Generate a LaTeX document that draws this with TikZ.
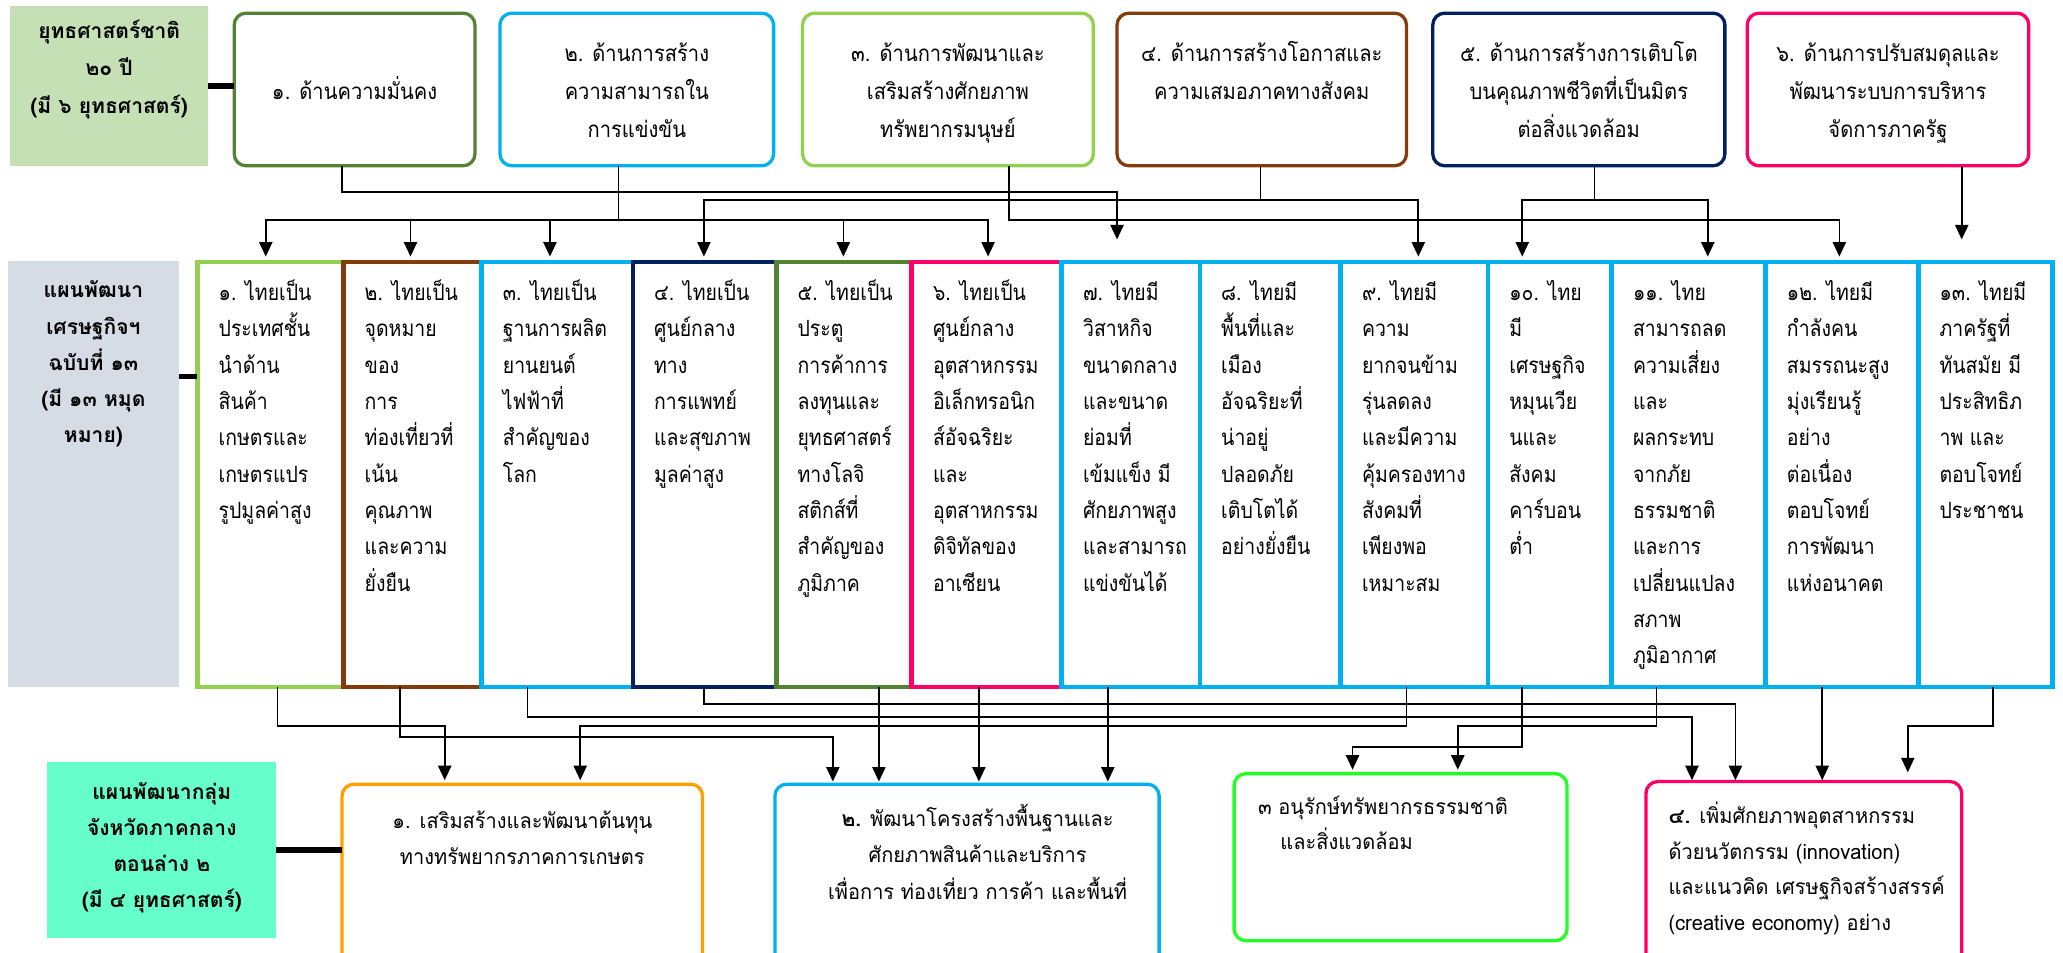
\documentclass[tikz,border=0pt]{standalone}
\usepackage{fontspec}
\newfontfamily\thai[Script=Thai]{Loma}
\newfontfamily\thaitop[Script=Thai,FakeStretch=0.9]{Loma}
\newfontfamily\thaimid[Script=Thai,FakeStretch=0.87]{Loma}
\newfontfamily\thaibot[Script=Thai,FakeStretch=0.95]{Loma}
\usetikzlibrary{arrows.meta}
\definecolor{lblgreen}{HTML}{C5E0B4}
\definecolor{lblgray}{HTML}{D6DCE5}
\definecolor{lblaqua}{HTML}{66FFCC}
\definecolor{cdkgreen}{HTML}{548235}
\definecolor{cblue}{HTML}{00B0F0}
\definecolor{cltgreen}{HTML}{92D050}
\definecolor{cbrown}{HTML}{843C0C}
\definecolor{cnavy}{HTML}{002060}
\definecolor{cpink}{HTML}{FF0066}
\definecolor{corange}{HTML}{FFA000}
\definecolor{cbright}{HTML}{22FF22}
\begin{document}
\begin{tikzpicture}[x=1pt,y=-1pt,
  lbl/.style={anchor=north west,inner sep=0pt,outer sep=0pt,draw=none},
  topbox/.style={anchor=north west,inner sep=0pt,outer sep=0pt,rounded corners=9pt,line width=2.5pt,minimum height=116pt},
  midbox/.style={anchor=north west,inner sep=0pt,outer sep=0pt,line width=3.5pt,minimum height=323pt},
  botbox/.style={anchor=north west,inner sep=0pt,outer sep=0pt,rounded corners=9pt,line width=2.5pt},
  lbltxt/.style={anchor=north,inner sep=0pt,align=center,font=\thai\bfseries\fontsize{16}{27.5}\selectfont},
  toptxt/.style={anchor=north,inner sep=0pt,align=center,font=\thaitop\fontsize{17}{29}\selectfont},
  midtxt/.style={anchor=north west,inner sep=0pt,align=left,font=\thaimid\fontsize{17}{27.6}\selectfont},
  bottxt/.style={inner sep=0pt,font=\thaibot\fontsize{16}{27.5}\selectfont},
  conn/.style={draw,line width=1.3pt},
  arr/.style={conn,-{Triangle[width=10pt,length=11pt]}},
  bar/.style={draw,line width=4pt}
]
\useasboundingbox (0,0) rectangle (1568,724);

% ---------- top row ----------
\node[lbl,fill=lblgreen,minimum width=150.5pt,minimum height=121.4pt] (lt) at (7.5,4.6) {};
\node[lbltxt,font=\thai\bfseries\fontsize{16}{28.5}\selectfont] (ltx) at (83,9) {\strut ยุทธศาสตร์ชาติ\\๒๐ ปี\\(มี ๖ ยุทธศาสตร์)};

\node[topbox,draw=cdkgreen,minimum width=183pt] (t1) at (178,10) {};
\node[topbox,draw=cblue,minimum width=208pt] (t2) at (380,10) {};
\node[topbox,draw=cltgreen,minimum width=221pt] (t3) at (610,10) {};
\node[topbox,draw=cbrown,minimum width=220pt] (t4) at (849,10) {};
\node[topbox,draw=cnavy,minimum width=222pt] (t5) at (1089,10) {};
\node[topbox,draw=cpink,minimum width=214pt] (t6) at (1328,10) {};

\node[toptxt] (t1x) at (269.5,55) {\strut ๑. ด้านความมั่นคง};
\node[toptxt] (t2x) at (484,26) {\strut ๒. ด้านการสร้าง\\ความสามารถใน\\การแข่งขัน};
\node[toptxt] (t3x) at (720.5,26) {\strut ๓. ด้านการพัฒนาและ\\เสริมสร้างศักยภาพ\\ทรัพยากรมนุษย์};
\node[toptxt] (t4x) at (959,26) {\strut ๔. ด้านการสร้างโอกาสและ\\ความเสมอภาคทางสังคม};
\node[toptxt] (t5x) at (1200,26) {\strut ๕. ด้านการสร้างการเติบโต\\บนคุณภาพชีวิตที่เป็นมิตร\\ต่อสิ่งแวดล้อม};
\node[toptxt] (t6x) at (1435,26) {\strut ๖. ด้านการปรับสมดุลและ\\พัฒนาระบบการบริหาร\\จัดการภาครัฐ};

\draw[bar] (lt.east) -- (lt.east -| t1.west);

% ---------- middle row ----------
\node[lbl,fill=lblgray,minimum width=130pt,minimum height=324pt] (lm) at (6,198) {};
\node[lbltxt] (lmx) at (71,207) {\strut แผนพัฒนา\\เศรษฐกิจฯ\\ฉบับที่ ๑๓\\(มี ๑๓ หมุด\\หมาย)};

\node[midbox,draw=cltgreen,minimum width=111pt] (m1) at (150,199) {};
\node[midbox,draw=cbrown,minimum width=105pt] (m2) at (261,199) {};
\node[midbox,draw=cblue,minimum width=115pt] (m3) at (366,199) {};
\node[midbox,draw=cnavy,minimum width=109pt] (m4) at (481,199) {};
\node[midbox,draw=cdkgreen,minimum width=103pt] (m5) at (590,199) {};
\node[midbox,draw=cpink,minimum width=114pt] (m6) at (693,199) {};
\node[midbox,draw=cblue,minimum width=105pt] (m7) at (807,199) {};
\node[midbox,draw=cblue,minimum width=107pt] (m8) at (912,199) {};
\node[midbox,draw=cblue,minimum width=112pt] (m9) at (1019,199) {};
\node[midbox,draw=cblue,minimum width=94pt] (m10) at (1131,199) {};
\node[midbox,draw=cblue,minimum width=117pt] (m11) at (1225,199) {};
\node[midbox,draw=cblue,minimum width=116pt] (m12) at (1342,199) {};
\node[midbox,draw=cblue,minimum width=102pt] (m13) at (1458,199) {};

\node[midtxt] (m1x) at (166,209) {\strut ๑. ไทยเป็น\\ประเทศชั้น\\นำด้าน\\สินค้า\\เกษตรและ\\เกษตรแปร\\รูปมูลค่าสูง};
\node[midtxt] (m2x) at (277,209) {\strut ๒. ไทยเป็น\\จุดหมาย\\ของ\\การ\\ท่องเที่ยวที่\\เน้น\\คุณภาพ\\และความ\\ยั่งยืน};
\node[midtxt] (m3x) at (382,209) {\strut ๓. ไทยเป็น\\ฐานการผลิต\\ยานยนต์\\ไฟฟ้าที่\\สำคัญของ\\โลก};
\node[midtxt] (m4x) at (497,209) {\strut ๔. ไทยเป็น\\ศูนย์กลาง\\ทาง\\การแพทย์\\และสุขภาพ\\มูลค่าสูง};
\node[midtxt] (m5x) at (606,209) {\strut ๕. ไทยเป็น\\ประตู\\การค้าการ\\ลงทุนและ\\ยุทธศาสตร์\\ทางโลจิ\\สติกส์ที่\\สำคัญของ\\ภูมิภาค};
\node[midtxt] (m6x) at (709,209) {\strut ๖. ไทยเป็น\\ศูนย์กลาง\\อุตสาหกรรม\\อิเล็กทรอนิก\\ส์อัจฉริยะ\\และ\\อุตสาหกรรม\\ดิจิทัลของ\\อาเซียน};
\node[midtxt] (m7x) at (823,209) {\strut ๗. ไทยมี\\วิสาหกิจ\\ขนาดกลาง\\และขนาด\\ย่อมที่\\เข้มแข็ง มี\\ศักยภาพสูง\\และสามารถ\\แข่งขันได้};
\node[midtxt] (m8x) at (928,209) {\strut ๘. ไทยมี\\พื้นที่และ\\เมือง\\อัจฉริยะที่\\น่าอยู่\\ปลอดภัย\\เติบโตได้\\อย่างยั่งยืน};
\node[midtxt] (m9x) at (1035,209) {\strut ๙. ไทยมี\\ความ\\ยากจนข้าม\\รุ่นลดลง\\และมีความ\\คุ้มครองทาง\\สังคมที่\\เพียงพอ\\เหมาะสม};
\node[midtxt] (m10x) at (1147,209) {\strut ๑๐. ไทย\\มี\\เศรษฐกิจ\\หมุนเวีย\\นและ\\สังคม\\คาร์บอน\\ต่ำ};
\node[midtxt] (m11x) at (1241,209) {\strut ๑๑. ไทย\\สามารถลด\\ความเสี่ยง\\และ\\ผลกระทบ\\จากภัย\\ธรรมชาติ\\และการ\\เปลี่ยนแปลง\\สภาพ\\ภูมิอากาศ};
\node[midtxt] (m12x) at (1358,209) {\strut ๑๒. ไทยมี\\กำลังคน\\สมรรถนะสูง\\มุ่งเรียนรู้\\อย่าง\\ต่อเนื่อง\\ตอบโจทย์\\การพัฒนา\\แห่งอนาคต};
\node[midtxt] (m13x) at (1474,209) {\strut ๑๓. ไทยมี\\ภาครัฐที่\\ทันสมัย มี\\ประสิทธิภ\\าพ และ\\ตอบโจทย์\\ประชาชน};

\draw[bar] ([yshift=74pt]lm.east) -- ++(14,0);

% ---------- bottom row ----------
\node[lbl,fill=lblaqua,minimum width=174pt,minimum height=134pt] (lb) at (36,579) {};
\node[lbltxt] (lbx) at (123,588) {\strut แผนพัฒนากลุ่ม\\จังหวัดภาคกลาง\\ตอนล่าง ๒\\(มี ๔ ยุทธศาสตร์)};

\node[botbox,draw=corange,minimum width=274pt,minimum height=170pt] (b1) at (260,596) {};
\node[botbox,draw=cblue,minimum width=292pt,minimum height=170pt] (b2) at (589,596) {};
\node[botbox,draw=cbright,minimum width=253pt,minimum height=127pt] (b3) at (938,588) {};
\node[botbox,draw=cpink,minimum width=240pt,minimum height=172pt] (b4) at (1251,594) {};

\node[bottxt,anchor=north,align=center] (b1x) at (397,610) {\strut ๑. เสริมสร้างและพัฒนาต้นทุน\\ทางทรัพยากรภาคการเกษตร};
\node[bottxt,anchor=north,align=center,font=\thaibot\fontsize{16}{28}\selectfont] (b2x) at (743,608) {\strut {\thai\bfseries ๒.} พัฒนาโครงสร้างพื้นฐานและ\\ศักยภาพสินค้าและบริการ\\เพื่อการ ท่องเที่ยว การค้า และพื้นที่};
\node[bottxt,anchor=north west,align=left,font=\thaibot\fontsize{16}{26}\selectfont] (b3x) at (956,601) {\strut ๓ อนุรักษ์ทรัพยากรธรรมชาติ\\\hspace*{17pt}และสิ่งแวดล้อม};
\node[bottxt,anchor=north west,align=left,font=\thaibot\fontsize{16}{27}\selectfont] (b4x) at (1268,607) {\strut {\thai\bfseries ๔.} เพิ่มศักยภาพอุตสาหกรรม\\ด้วยนวัตกรรม (innovation)\\และแนวคิด เศรษฐกิจสร้างสรรค์\\(creative economy) อย่าง};

\draw[bar] (lb.east) -- (lb.east -| b1.west);

% ---------- connectors: top -> middle ----------
\draw[arr] ([xshift=-9.5pt]t1.south) -- ++(0,20) -| ([xshift=-10.5pt,yshift=17pt]m7.north);
\draw[conn] ([xshift=-14pt]t2.south) -- ++(0,41) coordinate (j2);
\foreach \n/\s in {m1/-3.5,m2/-1.5,m3/-5.5,m5/-0.5,m6/1}
  \draw[arr] (j2) -| ([xshift=\s pt,yshift=4pt]\n.north);
\draw[arr] ([xshift=46.5pt]t3.south) -- ++(0,41) -| ([xshift=-2pt,yshift=4pt]m12.north);
\draw[conn] ([xshift=-1pt]t4.south) -- ++(0,26) coordinate (j4);
\foreach \n/\s in {m4/-0.5,m9/3}
  \draw[arr] (j4) -| ([xshift=\s pt,yshift=4pt]\n.north);
\draw[conn] ([xshift=12pt]t5.south) -- ++(0,26) coordinate (j5);
\foreach \n/\s in {m10/-21,m11/14.5}
  \draw[arr] (j5) -| ([xshift=\s pt,yshift=4pt]\n.north);
\draw[arr] ([xshift=56pt]t6.south) -- ([xshift=-18pt,yshift=17pt]m13.north);

% ---------- connectors: middle -> bottom ----------
\draw[arr] ([xshift=5.5pt]m1.south) -- ++(0,30) -| ([xshift=-59pt,yshift=3pt]b1.north);
\draw[arr] ([xshift=-9.5pt]m2.south) -- ++(0,38) -| ([xshift=-102pt,yshift=2pt]b2.north);
\draw[arr] ([xshift=-22.5pt]m3.south) -- ++(0,23) -| ([xshift=-85pt,yshift=1pt]b4.north);
\draw[arr] ([xshift=-0.5pt]m4.south) -- ++(0,13) -| ([xshift=-52pt,yshift=1pt]b4.north);
\draw[arr] ([xshift=26.5pt]m5.south) -- ([xshift=-67pt,yshift=2pt]b2.north);
\draw[arr] ([xshift=-6pt]m6.south) -- ([xshift=9pt,yshift=2pt]b2.north);
\draw[arr] ([xshift=-17.5pt]m7.south) -- ([xshift=107pt,yshift=2pt]b2.north);
\draw[arr] ([xshift=-6pt]m9.south) -- ++(0,30) -| ([xshift=44pt,yshift=3pt]b1.north);
\draw[arr] ([xshift=-21pt]m10.south) -- ++(0,46) -| ([xshift=-36.5pt,yshift=3pt]b3.north);
\draw[arr] ([xshift=-24.5pt]m11.south) -- ++(0,30) -| ([xshift=43.5pt,yshift=3pt]b3.north);
\draw[arr] ([xshift=-15pt]m12.south) -- ([xshift=14pt,yshift=1pt]b4.north);
\draw[arr] ([xshift=6pt]m13.south) -- ++(0,30) -| ([xshift=79pt,yshift=7pt]b4.north);
\end{tikzpicture}
\end{document}
